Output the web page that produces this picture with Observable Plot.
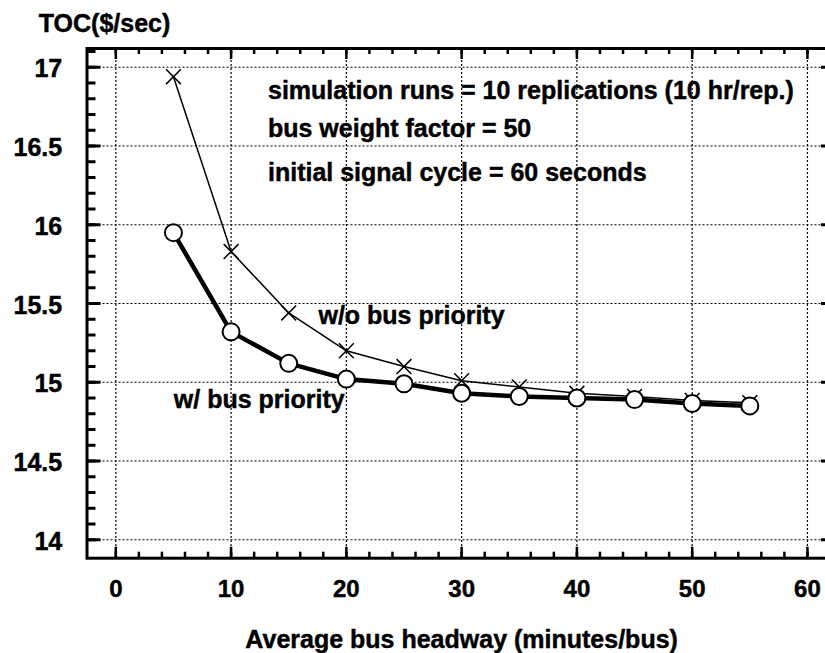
<!DOCTYPE html>
<html>
<head>
<meta charset="utf-8">
<script src="https://cdn.jsdelivr.net/npm/d3@7"></script>
<script src="https://cdn.jsdelivr.net/npm/@observablehq/plot@0.6"></script>
<style>
  html, body { margin: 0; padding: 0; background: #fff; overflow: hidden; }
  #chart svg { display: block; max-width: none !important; }
  #chart svg text { stroke: black; stroke-width: 0.45px; }
</style>
</head>
<body>
<div id="chart"></div>
<script>
// ---- data ----
const headway = [5, 10, 15, 20, 25, 30, 35, 40, 45, 50, 55];
const tocWithoutPriority = [16.94, 15.83, 15.44, 15.20, 15.10, 15.01, 14.97, 14.93, 14.91, 14.885, 14.87];
const tocWithPriority    = [15.95, 15.32, 15.12, 15.02, 14.99, 14.93, 14.91, 14.90, 14.89, 14.865, 14.85];
const xTicks = [0, 10, 20, 30, 40, 50, 60];
const yTicks = [14, 14.5, 15, 15.5, 16, 16.5, 17];
const xMinorTicks = d3.range(0, 31).map(i => i * 2);
const yMinorTicks = d3.range(140, 172).map(i => i / 10);
const notes = [
  "simulation runs = 10 replications (10 hr/rep.)",
  "bus weight factor = 50",
  "initial signal cycle = 60 seconds"
];
const seriesLabels = ["w/o bus priority", "w/ bus priority"];
const yLabel = "TOC($/sec)";
const xLabel = "Average bus headway (minutes/bus)";

// ---- layout ----
const width = 840, height = 653;
const mL = 86.5, mR = 10, mT = 48, mB = 95.3;
const innerW = width - mL - mR, innerH = height - mT - mB;

const without = headway.map((x, i) => ({x, y: tocWithoutPriority[i]}));
const withP = headway.map((x, i) => ({x, y: tocWithPriority[i]}));

const grid = {stroke: "black", strokeWidth: 1.2, strokeDasharray: "2,2", strokeOpacity: 1};
const font = {fontSize: 25, fontWeight: "bold", fill: "black"};

const chart = Plot.plot({
  width, height,
  marginLeft: mL, marginRight: mR, marginTop: mT, marginBottom: mB,
  style: {fontFamily: "'Liberation Sans', Arial, sans-serif", fontWeight: "bold", color: "black", background: "white", overflow: "visible"},
  x: {domain: [-2.5, 62]},
  y: {domain: [13.883, 17.119]},
  marks: [
    Plot.ruleX(xTicks, {x: d => d, ...grid}),
    Plot.ruleY(yTicks, {y: d => d, ...grid}),
    // inward ticks: left
    Plot.tickY(yTicks, {y: d => d, insetRight: innerW - 14, stroke: "black", strokeWidth: 3}),
    Plot.tickY(yMinorTicks, {y: d => d, insetRight: innerW - 9, stroke: "black", strokeWidth: 3}),
    // right
    Plot.tickY(yTicks, {y: d => d, insetLeft: innerW - 9, stroke: "black", strokeWidth: 3}),
    Plot.tickY(yMinorTicks, {y: d => d, insetLeft: innerW - 5, stroke: "black", strokeWidth: 2.5}),
    // bottom
    Plot.tickX(xTicks, {x: d => d, insetTop: innerH - 11, stroke: "black", strokeWidth: 2.5}),
    Plot.tickX(xMinorTicks, {x: d => d, insetTop: innerH - 6, stroke: "black", strokeWidth: 2.5}),
    // top
    Plot.tickX(xTicks, {x: d => d, insetBottom: innerH - 11, stroke: "black", strokeWidth: 2.5}),
    Plot.tickX(xMinorTicks, {x: d => d, insetBottom: innerH - 6, stroke: "black", strokeWidth: 2.5}),
    Plot.frame({stroke: "black", strokeWidth: 3}),
    Plot.axisX(xTicks, {anchor: "bottom", tickSize: 0, tickPadding: 22, fontSize: 24, fontWeight: "bold", label: null, tickFormat: d => `${d}`}),
    Plot.axisY(yTicks, {anchor: "left", tickSize: 0, tickPadding: 24.8, dy: 2, fontSize: 25, fontWeight: "bold", label: null, tickFormat: d => `${d}`}),
    // series without priority
    Plot.line(without, {x: "x", y: "y", stroke: "black", strokeWidth: 1.5}),
    Plot.dot(without, {x: "x", y: "y", symbol: "times", r: 6.8, stroke: "black", strokeWidth: 1.5}),
    // series with priority
    Plot.line(withP, {x: "x", y: "y", stroke: "black", strokeWidth: 4.5}),
    Plot.dot(withP, {x: "x", y: "y", r: 8.5, fill: "white", stroke: "black", strokeWidth: 2}),
    // annotations
    Plot.text([notes[0]], {x: 13.2, y: 16.80, text: d => d, textAnchor: "start", lineAnchor: "bottom", ...font}),
    Plot.text([notes[1]], {x: 13.2, y: 16.556, text: d => d, textAnchor: "start", lineAnchor: "bottom", ...font}),
    Plot.text([notes[2]], {x: 13.2, y: 16.28, text: d => d, textAnchor: "start", lineAnchor: "bottom", ...font}),
    Plot.text([seriesLabels[0]], {x: 17.58, y: 15.368, text: d => d, textAnchor: "start", lineAnchor: "bottom", ...font}),
    Plot.text([seriesLabels[1]], {x: 5.03, y: 14.834, text: d => d, textAnchor: "start", lineAnchor: "bottom", ...font}),
    Plot.text([yLabel], {frameAnchor: "top-left", dx: -48.2, dy: -16.3, text: d => d, textAnchor: "start", lineAnchor: "bottom", ...font}),
    Plot.text([xLabel], {x: 30, frameAnchor: "bottom", dy: 89.3, text: d => d, textAnchor: "middle", lineAnchor: "bottom", ...font})
  ]
});
document.getElementById("chart").appendChild(chart);
</script>
</body>
</html>
